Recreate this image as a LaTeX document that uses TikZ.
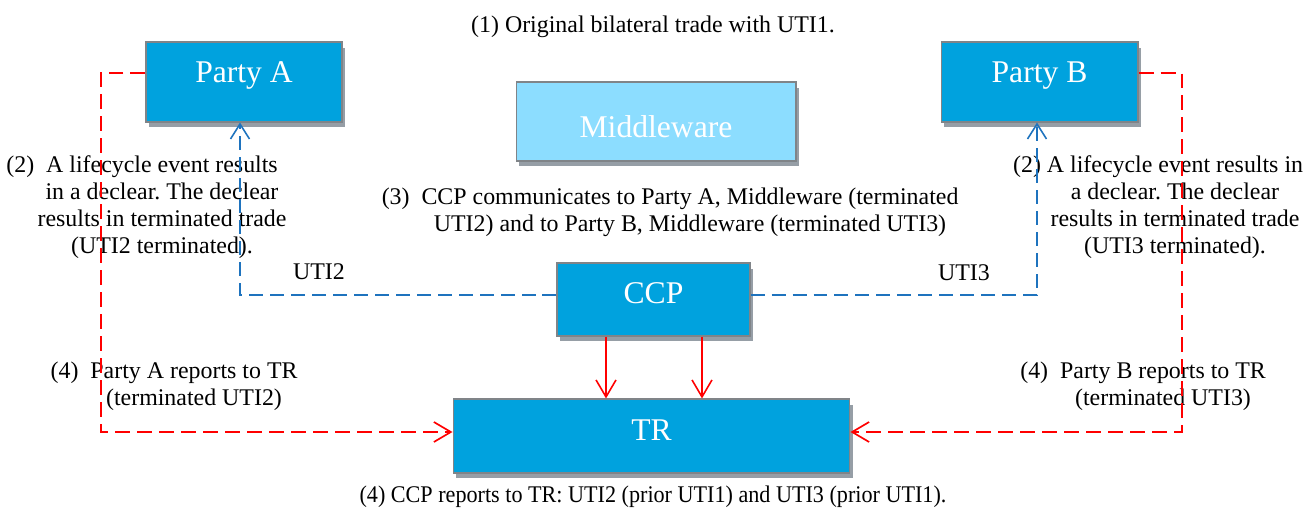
\documentclass[tikz,border=0pt]{standalone}
\usepackage{fontspec}
\setmainfont{Liberation Serif}
\usetikzlibrary{arrows.meta, shadows, positioning}

\definecolor{boxblue}{RGB}{0,162,222}
\definecolor{mwblue}{RGB}{140,221,255}
\definecolor{shadowgrey}{RGB}{150,158,166}
\definecolor{edgegrey}{RGB}{128,132,136}
\definecolor{lineblue}{RGB}{30,115,190}
\definecolor{linered}{RGB}{255,0,0}

\begin{document}
\frenchspacing
\begin{tikzpicture}[x=0.02cm, y=-0.02cm]
        \tikzstyle{entity} = [rectangle, draw=edgegrey, line width=0.6pt, fill=boxblue, text=white, font=\fontsize{18}{20}\selectfont, inner xsep=0pt, inner ysep=0pt, drop shadow={shadow xshift=0.06cm, shadow yshift=-0.11cm, fill=shadowgrey, opacity=1}]
        \tikzstyle{note} = [align=center, font=\fontsize{13.6}{15.3}\selectfont, inner sep=0pt]
        \tikzstyle{report} = [draw=linered, line width=0.95pt, dash pattern=on 0.3cm off 0.14cm, -{Straight Barb[length=0.34cm, width=0.4cm]}]
        \tikzstyle{update} = [draw=lineblue, line width=0.9pt, dash pattern=on 0.28cm off 0.14cm, -{Straight Barb[length=0.3cm, width=0.38cm]}]
        \tikzstyle{feed} = [draw=linered, line width=0.9pt, -{Straight Barb[length=0.34cm, width=0.4cm]}]
        \useasboundingbox (0,0) rectangle (1306,510);

        % boxes
        \node (partyA) [entity, minimum width=3.92cm, text height=0.82cm, text depth=0.78cm] at (244,82) {Party A};
        \node (partyB) [entity, minimum width=3.94cm, text height=0.82cm, text depth=0.78cm] at (1039.5,82) {Party B};
        \node (middleware) [entity, fill=mwblue, minimum width=5.6cm, text height=1.12cm, text depth=0.46cm] at (656,121.5) {Middleware};
        \node (ccp) [entity, minimum width=3.86cm, text height=0.82cm, text depth=0.64cm] at (653.5,299.5) {CCP};
        \node (tr) [entity, minimum width=7.94cm, text height=0.82cm, text depth=0.66cm] at (651.5,436) {TR};

        % texts
        \node (trade) [note] at (653,27) {(1) Original bilateral trade with UTI1.};
        \node (declearA) [note] at (162,207) {\llap{(2)\ \ }A lifecycle event results\\in a declear. The declear\\results in terminated trade\\(UTI2 terminated).};
        \node (declearB) [note] at (1175,207) {\llap{(2)\ }A lifecycle event results in\\a declear. The declear\\results in terminated trade\\(UTI3 terminated).};
        \node (communicate) [note] at (690,212) {\llap{(3)\ \ }CCP communicates to Party A, Middleware (terminated\\UTI2) and to Party B, Middleware (terminated UTI3)};
        \node (utiA) [note] at (319,272) {UTI2};
        \node (utiB) [note] at (964,273) {UTI3};
        \node (reportA) [note] at (194,386) {\llap{(4)\ \ }Party A reports to TR\\(terminated UTI2)};
        \node (reportB) [note] at (1163,386) {\llap{(4)\ \ }Party B reports to TR\\(terminated UTI3)};
        \node (reportCCP) [note] at (653,497) {\scalebox{0.927}[1]{(4) CCP reports to TR: UTI2 (prior UTI1) and UTI3 (prior UTI1).}};

        % connectors
        \coordinate (railA) at (101,432);
        \coordinate (railB) at (1182,432);
        \coordinate (ccpL) at ([xshift=-0.95cm]ccp.south);
        \coordinate (ccpR) at ([xshift=0.97cm]ccp.south);
        \draw[update] ([yshift=0.09cm]ccp.west) -| ([xshift=-0.08cm]partyA.south);
        \draw[update] ([yshift=0.09cm]ccp.east) -| ([xshift=-0.05cm]partyB.south);
        \draw[report] ([yshift=0.18cm]partyA.west) -| (railA) |- ([yshift=0.08cm]tr.west);
        \draw[report] ([yshift=0.18cm]partyB.east) -| (railB) |- ([yshift=0.08cm]tr.east);
        \draw[feed] (ccpL) -- (ccpL |- tr.north);
        \draw[feed] (ccpR) -- (ccpR |- tr.north);
    \end{tikzpicture}
\end{document}
